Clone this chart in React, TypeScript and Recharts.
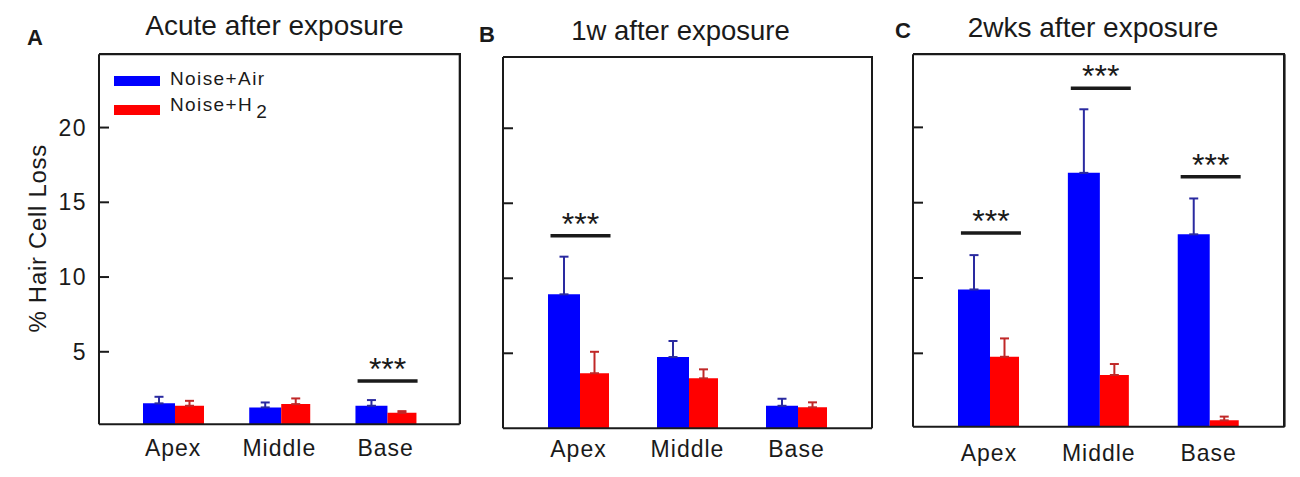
import { Bar, BarChart, ErrorBar, Legend, ReferenceLine, XAxis, YAxis } from "recharts";

const regions = ["Apex", "Middle", "Base"];
const seriesNames = ["Noise+Air", "Noise+H2"];
const yTicks = [5, 10, 15, 20];

// acute
const acuteAir = [1.55, 1.28, 1.39];
const acuteAirSem = [0.44, 0.33, 0.38];
const acuteH2 = [1.39, 1.5, 0.92];
const acuteH2Sem = [0.33, 0.38, 0.11];
const acuteSig = [null, null, 3.04];

// 1 week
const week1Air = [8.93, 4.75, 1.5];
const week1AirSem = [2.51, 1.07, 0.47];
const week1H2 = [3.67, 3.33, 1.4];
const week1H2Sem = [1.43, 0.6, 0.33];
const week1Sig = [12.84, null, null];

// 2 weeks
const week2Air = [9.24, 16.98, 12.9];
const week2AirSem = [2.28, 4.22, 2.38];
const week2H2 = [4.77, 3.56, 0.55];
const week2H2Sem = [1.22, 0.73, 0.25];
const week2Sig = [12.98, 22.6, 16.72];

const BLUE = "#0000ff";
const RED = "#ff0000";
const INK = "#1a1a1a";

function buildRows(air: number[], airSem: number[], h2: number[], h2Sem: number[]) {
  return regions.map((region, i) => ({
    region,
    air: air[i],
    airErr: [0, airSem[i]],
    h2: h2[i],
    h2Err: [0, h2Sem[i]],
  }));
}

const SigMark = (props: any) => {
  const { x1, y1 } = props;
  return (
    <g>
      <line x1={x1 - 28} x2={x1 + 32} y1={y1} y2={y1} stroke={INK} strokeWidth={3.5} />
      <text x={x1 + 2} y={y1 - 1} textAnchor="middle" fontSize={32} fill={INK}>
        ***
      </text>
    </g>
  );
};

const renderLegend = ({ payload }: any) => (
  <div style={{ fontSize: 19, color: INK, letterSpacing: 1.4 }}>
    {(payload ?? []).map((entry: any) => (
      <div key={entry.value} style={{ display: "flex", alignItems: "center", height: 29 }}>
        <span style={{ width: 46, height: 10, background: entry.color, marginRight: 10 }} />
        <span style={{ position: "relative", top: -2 }}>
          {entry.value.endsWith("2") ? (
            <>
              {entry.value.slice(0, -1)}
              <span style={{ verticalAlign: "-7px", marginLeft: 3 }}>2</span>
            </>
          ) : (
            entry.value
          )}
        </span>
      </div>
    ))}
  </div>
);

// page position of the legend (inside panel A)
const LEGEND_LEFT = 114;
const LEGEND_TOP = 66.5;

type PanelProps = {
  rows: ReturnType<typeof buildRows>;
  sig: (number | null)[];
  plot: { left: number; top: number; right: number; bottom: number };
  domain: [number, number];
  labelGap: number;
  first?: boolean;
  legend?: boolean;
};

function Panel({ rows, sig, plot, domain, labelGap, first, legend }: PanelProps) {
  const divLeft = plot.left - 90;
  const width = plot.right - plot.left + 100;
  const axisStroke = { stroke: INK, strokeWidth: 2 };
  return (
    <div style={{ position: "absolute", left: divLeft, top: 0 }}>
      <BarChart
        width={width}
        height={477}
        data={rows}
        barGap={0}
        margin={{ top: plot.top - 1, right: 9, bottom: 477 - plot.bottom - 40, left: 30 }}
      >
        <XAxis
          dataKey="region"
          padding={{ left: 21, right: 21 }}
          height={40}
          interval={0}
          tickLine={false}
          tickSize={0}
          tickMargin={labelGap}
          axisLine={axisStroke}
          tick={{ fontSize: 23, fill: INK, letterSpacing: 1 }}
        />
        <XAxis xAxisId="top" orientation="top" dataKey="region" height={1} tick={false} tickLine={false} axisLine={axisStroke} />
        <YAxis
          width={60}
          domain={domain}
          allowDataOverflow
          ticks={yTicks}
          tickSize={-10}
          tickMargin={22}
          axisLine={axisStroke}
          tickLine={axisStroke}
          tickFormatter={(v) => (first ? String(v) : "")}
          tick={{ fontSize: 23, fill: INK, letterSpacing: 1.5 }}
          label={
            first
              ? {
                  content: ({ viewBox }: any) => {
                    const x = viewBox.x + viewBox.width - 53;
                    const y = viewBox.y + viewBox.height / 2 - 1;
                    return (
                      <text x={x} y={y} transform={`rotate(-90, ${x}, ${y})`} textAnchor="middle" fontSize={24} fill={INK} letterSpacing={0.7}>
                        % Hair Cell Loss
                      </text>
                    );
                  },
                }
              : undefined
          }
        />
        <YAxis yAxisId="right" orientation="right" width={1} tick={false} tickLine={false} axisLine={axisStroke} />
        <Bar dataKey="air" name={seriesNames[0]} fill={BLUE} barSize={32} isAnimationActive={false}>
          <ErrorBar dataKey="airErr" width={4.5} stroke="#2a2aa0" strokeWidth={2} direction="y" />
        </Bar>
        <Bar dataKey="h2" name={seriesNames[1]} fill={RED} barSize={29} isAnimationActive={false}>
          <ErrorBar dataKey="h2Err" width={4.5} stroke="#c02828" strokeWidth={2} direction="y" />
        </Bar>
        {regions.map((region, i) =>
          sig[i] == null ? null : (
            <ReferenceLine
              key={region}
              segment={[
                { x: region, y: sig[i] as number },
                { x: region, y: sig[i] as number },
              ]}
              shape={SigMark}
            />
          )
        )}
        {legend && (
          <Legend
            layout="vertical"
            align="center"
            verticalAlign="middle"
            content={renderLegend}
            wrapperStyle={{ left: LEGEND_LEFT - divLeft, top: LEGEND_TOP, width: 220 }}
          />
        )}
      </BarChart>
      {/* top and right edges of the plot frame */}
      <div
        style={{
          position: "absolute",
          left: 90,
          top: plot.top - 1,
          width: plot.right - plot.left + 1,
          height: plot.bottom - plot.top + 1,
          boxSizing: "border-box",
          borderTop: `2px solid ${INK}`,
          borderRight: `2px solid ${INK}`,
          pointerEvents: "none",
        }}
      />
    </div>
  );
}

export default function App() {
  return (
    <div
      style={{
        position: "absolute",
        left: 0,
        top: 0,
        width: 1300,
        height: 477,
        background: "#fff",
        fontFamily: "'Liberation Sans', Arial, sans-serif",
        overflow: "hidden",
      }}
    >
      <Panel
        rows={buildRows(acuteAir, acuteAirSem, acuteH2, acuteH2Sem)}
        sig={acuteSig}
        plot={{ left: 99.3, top: 54.3, right: 460, bottom: 424.3 }}
        domain={[0.15, 24.9]}
        labelGap={15.5}
        first
      />
      <Panel
        rows={buildRows(week1Air, week1AirSem, week1H2, week1H2Sem)}
        sig={week1Sig}
        plot={{ left: 503, top: 57, right: 872, bottom: 428.3 }}
        domain={[0, 24.75]}
        labelGap={12.5}
        legend
      />
      <Panel
        rows={buildRows(week2Air, week2AirSem, week2H2, week2H2Sem)}
        sig={week2Sig}
        plot={{ left: 912.7, top: 54.3, right: 1284.3, bottom: 426.7 }}
        domain={[0.13, 24.85]}
        labelGap={18}
      />
      <svg width={1300} height={477} style={{ position: "absolute", left: 0, top: 0, pointerEvents: "none" }}>
        <g fill={INK}>
          <text x={27} y={45} fontSize={22} fontWeight="bold">A</text>
          <text x={479} y={42} fontSize={22} fontWeight="bold">B</text>
          <text x={895} y={37.5} fontSize={22} fontWeight="bold">C</text>
          <text x={274.5} y={35} fontSize={28} textAnchor="middle">Acute after exposure</text>
          <text x={680.5} y={40} fontSize={27.5} textAnchor="middle">1w after exposure</text>
          <text x={1093} y={36.7} fontSize={28} textAnchor="middle">2wks after exposure</text>
        </g>
      </svg>
    </div>
  );
}
